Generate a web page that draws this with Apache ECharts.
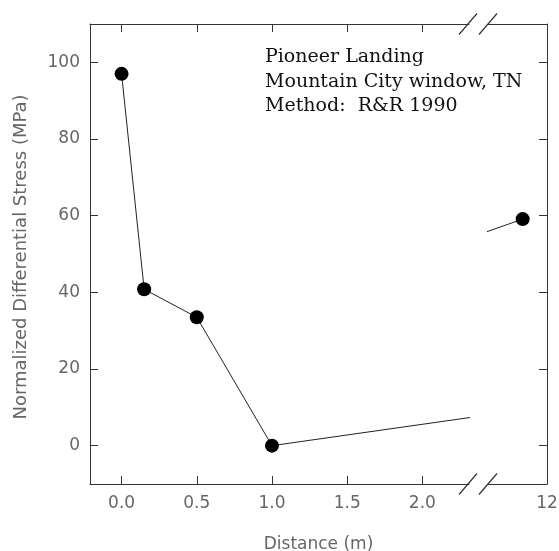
<!DOCTYPE html>
<html>
<head>
<meta charset="utf-8">
<title>Pioneer Landing</title>
<script src="https://cdn.jsdelivr.net/npm/echarts@6/dist/echarts.min.js"></script>
<style>
  html, body { margin: 0; padding: 0; background: #fff; }
  #chart { width: 559px; height: 551px; }
</style>
</head>
<body>
<div id="chart"></div>
<script>
// values
const distance = [0, 0.15, 0.5, 1.0, 11.6]
const stress = [97, 40.8, 33.5, 0, 59.1]
const xTicksLeft = [0, 0.5, 1.0, 1.5, 2.0]
const xTicksRight = [12]
const yTicks = [0, 20, 40, 60, 80, 100]
const notes = ['Pioneer Landing', 'Mountain City window, TN', 'Method:  R&R 1990']

const points = distance.map((d, i) => [d, stress[i]])

// plot box, split in two by the axis break
const box = { left: 90, top: 24, bottom: 484, right: 547 }
const breakL = 469
const breakR = 488

const axisColor = '#333'
const labelColor = '#666'
const sans = 'DejaVu Sans'

const chart = echarts.init(document.getElementById('chart'))

function xAxis(gridIndex, min, max, position, ticks, labels) {
  return {
    type: 'value',
    gridIndex: gridIndex,
    position: position,
    min: min,
    max: max,
    axisLine: { show: true, onZero: false, lineStyle: { color: axisColor, width: 1 } },
    axisTick: { show: !!ticks, inside: true, length: 8, customValues: ticks || [], lineStyle: { color: axisColor } },
    axisLabel: {
      show: !!labels,
      customValues: labels || [],
      margin: 11,
      color: labelColor,
      fontFamily: sans,
      fontSize: 17,
      formatter: v => (v >= 10 ? String(v) : v.toFixed(1))
    },
    splitLine: { show: false }
  }
}

function yAxis(gridIndex, position, labels) {
  return {
    type: 'value',
    gridIndex: gridIndex,
    position: position,
    min: -10,
    max: 110,
    axisLine: { show: true, onZero: false, lineStyle: { color: axisColor, width: 1 } },
    axisTick: { show: true, inside: true, length: 8, customValues: yTicks, lineStyle: { color: axisColor } },
    axisLabel: {
      show: labels,
      customValues: yTicks,
      margin: 10,
      color: labelColor,
      fontFamily: sans,
      fontSize: 17
    },
    splitLine: { show: false }
  }
}

const leftX = xAxis(0, -0.21, 2.31, 'bottom', xTicksLeft, xTicksLeft)
leftX.name = 'Distance (m)'
leftX.nameLocation = 'middle'
leftX.nameGap = 52
// centre the title under the whole box, not only the left part
leftX.nameTextStyle = { color: labelColor, fontFamily: sans, fontSize: 17, padding: [0, 0, 0, 78] }

const leftY = yAxis(0, 'left', true)
leftY.name = 'Normalized Differential Stress (MPa)'
leftY.nameLocation = 'middle'
leftY.nameGap = 60
leftY.nameTextStyle = { color: labelColor, fontFamily: sans, fontSize: 18, padding: [0, 6, 0, 0] }

const lineSeries = gridIndex => ({
  type: 'line',
  xAxisIndex: gridIndex * 2,
  yAxisIndex: gridIndex,
  data: points,
  clip: true,
  symbol: 'circle',
  symbolSize: 14,
  itemStyle: { color: '#000' },
  lineStyle: { color: '#222', width: 1 },
  silent: true
})

// the "//" marks where the x axis is cut
const slashes = []
;[breakL - 1, breakR].forEach(cx => {
  ;[box.top, box.bottom].forEach(cy => {
    slashes.push({
      type: 'line',
      shape: { x1: cx - 9, y1: cy + 10.5, x2: cx + 9, y2: cy - 10.5 },
      style: { stroke: axisColor, lineWidth: 1.2 }
    })
  })
})

chart.setOption({
  animation: false,
  backgroundColor: '#fff',
  title: {
    text: notes.join('\n'),
    left: 260,
    top: 40,
    textStyle: { fontFamily: 'DejaVu Serif', fontSize: 19, fontWeight: 'normal', color: '#111', lineHeight: 24.5 }
  },
  grid: [
    { left: box.left, top: box.top, width: breakL - box.left, height: box.bottom - box.top, outerBoundsMode: 'none' },
    { left: breakR, top: box.top, width: box.right - breakR, height: box.bottom - box.top, outerBoundsMode: 'none' }
  ],
  xAxis: [
    leftX,
    xAxis(0, -0.21, 2.31, 'top', xTicksLeft, null),
    xAxis(1, 11.03, 12, 'bottom', null, xTicksRight),
    xAxis(1, 11.03, 12, 'top', null, null)
  ],
  yAxis: [leftY, yAxis(1, 'right', false)],
  series: [lineSeries(0), lineSeries(1)],
  graphic: slashes
})
</script>
</body>
</html>
